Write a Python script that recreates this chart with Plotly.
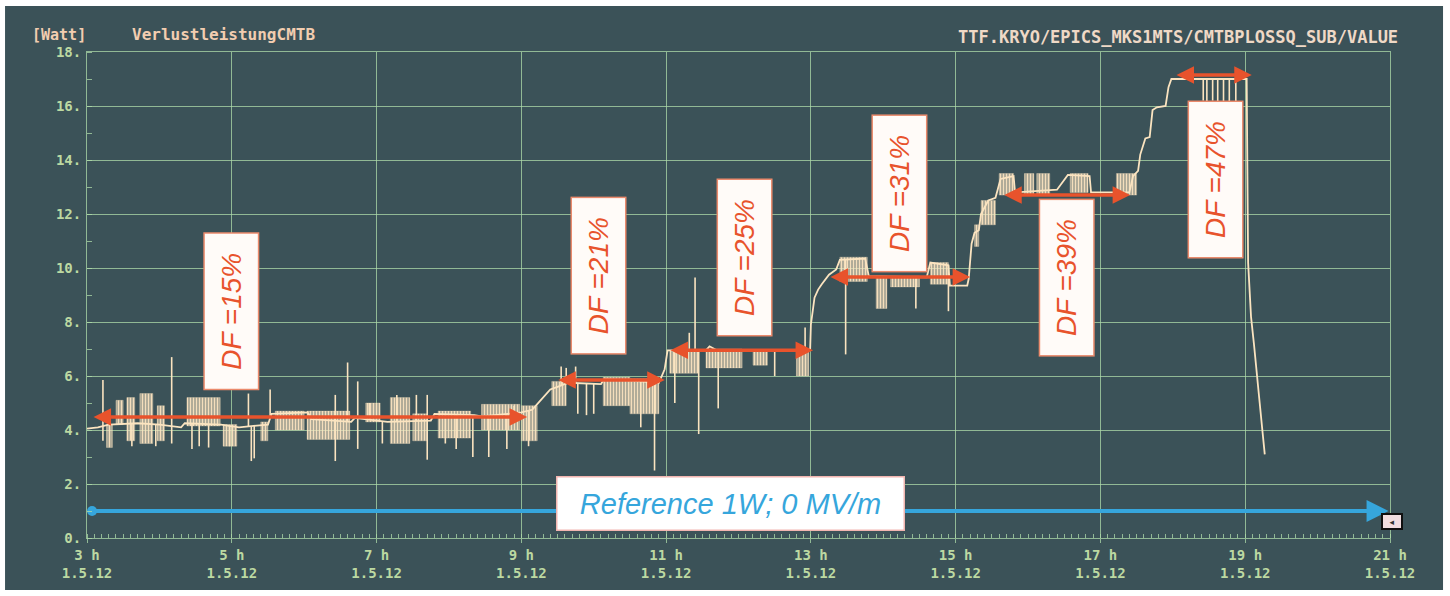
import numpy as np
import plotly.graph_objects as go

# ---- cavity loss power trace (hours on 1.5.12, watts) ----
hours_base = [3.00, 3.15, 3.30, 3.70, 4.00, 4.30, 4.35, 4.85, 5.10, 5.50, 5.55, 6.05,
              6.10, 6.65, 6.70, 7.05, 7.15, 7.75, 7.80, 8.35, 8.45, 9.00, 9.15, 9.25,
              9.40, 9.50, 9.65, 10.10, 10.15, 10.90, 10.98, 11.02, 11.55, 11.60, 11.70,
              12.95, 12.99, 13.00, 13.05, 13.10, 13.15, 13.25, 13.35, 13.40, 13.75, 13.80,
              14.60, 14.65, 14.90, 14.92, 15.16, 15.18, 15.22, 15.26, 15.32, 15.35, 15.45,
              15.55, 15.62, 15.80, 15.82, 16.40, 16.55, 16.85, 16.87, 17.40, 17.45, 17.52,
              17.55, 17.62, 17.68, 17.72, 17.78, 17.90, 17.94, 17.98, 19.02, 19.04, 19.08,
              19.12, 19.16, 19.20, 19.24, 19.27]
watt_base = [4.05, 4.10, 4.20, 4.25, 4.20, 4.10, 4.25, 4.20, 4.10, 4.20, 4.60, 4.65,
             4.40, 4.30, 4.45, 4.35, 4.30, 4.35, 4.60, 4.55, 4.50, 4.65, 4.75, 5.05,
             5.50, 5.60, 5.75, 5.70, 5.90, 5.75, 6.25, 6.95, 6.95, 7.10, 6.95,
             6.95, 7.00, 7.90, 8.90, 9.20, 9.40, 9.75, 9.95, 10.30, 10.35, 9.70,
             9.65, 10.20, 10.10, 9.35, 9.35, 9.60, 10.90, 11.30, 11.40, 12.00, 12.50,
             12.60, 13.30, 13.40, 12.80, 12.90, 13.45, 13.40, 12.80, 12.80, 13.40, 13.60,
             14.20, 14.80, 14.85, 15.85, 15.95, 16.00, 16.70, 17.00, 17.00, 10.20, 8.20,
             7.20, 6.20, 5.00, 3.90, 3.10]

# dense fluctuation blocks: start, end, lower and upper value
burst_start = [3.27, 3.40, 3.55, 3.73, 3.97, 4.38, 4.88, 5.40, 5.60, 6.04, 6.85, 7.19,
               7.50, 7.85, 8.45, 9.00, 9.42, 10.13, 10.50, 11.05, 11.55, 12.20, 12.80,
               13.40, 13.90, 14.10, 14.65, 15.26, 15.35, 15.60, 15.95, 16.12, 16.58, 17.22]
burst_end = [3.35, 3.50, 3.66, 3.91, 4.07, 4.84, 5.07, 5.50, 6.00, 6.63, 7.05, 7.46,
             7.70, 8.30, 8.98, 9.22, 9.62, 10.50, 10.90, 11.45, 12.05, 12.40, 12.97,
             13.78, 14.05, 14.50, 14.90, 15.32, 15.55, 15.80, 16.08, 16.30, 16.83, 17.50]
burst_low = [3.35, 4.20, 3.60, 3.50, 3.60, 4.15, 3.40, 3.60, 4.00, 3.65, 4.30, 3.50,
             3.60, 3.70, 4.00, 3.60, 4.90, 4.90, 4.60, 6.10, 6.30, 6.40, 6.00,
             9.50, 8.50, 9.30, 9.40, 10.80, 11.60, 12.70, 12.70, 12.70, 12.80, 12.70]
burst_high = [4.20, 5.10, 5.20, 5.35, 4.90, 5.20, 4.20, 4.30, 4.70, 4.70, 5.00, 5.20,
              4.60, 4.70, 4.95, 4.90, 5.80, 5.95, 5.90, 6.95, 7.00, 6.95, 6.95,
              10.40, 9.70, 9.70, 10.20, 11.60, 12.50, 13.50, 13.50, 13.50, 13.50, 13.50]

# isolated excursions: time and tip value
spike_hours = [3.22, 3.22, 3.62, 3.95, 4.17, 4.17, 4.45, 4.55, 4.68, 4.97, 5.23, 5.27,
               5.31, 5.53, 6.43, 6.43, 6.60, 6.74, 6.74, 6.90, 7.08, 7.28, 7.55, 7.70,
               7.70, 7.95, 8.10, 8.33, 8.55, 8.80, 8.90, 9.10, 9.55, 9.62, 9.75, 9.78,
               9.90, 10.00, 10.65, 10.84, 11.12, 11.32, 11.40, 11.45, 11.72, 12.50, 12.92,
               13.48, 14.45, 14.90, 18.42, 18.47, 18.55, 18.62, 18.70, 18.78, 18.87]
spike_watt = [5.85, 3.60, 3.40, 3.40, 6.70, 3.50, 3.30, 3.40, 3.35, 3.40, 5.35, 2.85,
              2.95, 5.50, 5.30, 2.85, 6.50, 5.80, 3.30, 5.00, 3.50, 5.30, 5.30, 5.30,
              2.90, 3.50, 3.30, 3.00, 3.00, 3.30, 4.90, 3.40, 6.35, 6.30, 6.35, 4.60,
              4.55, 4.60, 4.10, 2.50, 5.00, 7.60, 9.65, 3.85, 4.80, 6.00, 7.80,
              6.80, 8.50, 8.40, 16.20, 16.10, 16.20, 16.00, 16.00, 16.10, 16.00]

# duty factor marks
df_labels = ["DF =15%", "DF =21%", "DF =25%", "DF =31%", "DF =39%", "DF =47%"]
df_from = [3.07, 9.49, 11.04, 13.25, 15.65, 18.03]
df_to = [9.08, 10.98, 13.03, 15.20, 17.41, 19.09]
df_level = [4.48, 5.85, 6.95, 9.67, 12.70, 17.15]
df_box_hour = [5.00, 10.06, 12.09, 14.23, 16.54, 18.59]
df_box_watt = [8.39, 9.72, 10.39, 12.76, 9.65, 13.26]

ref_hours = [3.07, 20.98]
ref_watt = [1.0, 1.0]
ref_label = "Reference 1W; 0 MV/m"

hour_ticks = [3, 5, 7, 9, 11, 13, 15, 17, 19, 21]
hour_labels = [f"{h} h<br>1.5.12" for h in hour_ticks]
watt_ticks = list(range(0, 19, 2))
watt_labels = [f"{w}." for w in watt_ticks]

BG = "#3b5258"
GRID = "rgba(175,220,170,0.75)"
TRACE = "#fbe4c0"
TICKTXT = "#bcd9a2"
HEAD = "#f2cdb0"
RED = "#e8532c"
BLUE = "#36a6dc"
MONO = "DejaVu Sans Mono"

fig = go.Figure()

# blocks of dense switching, drawn as striped fill
bx, by = [], []
for t0, t1, lo, hi in zip(burst_start, burst_end, burst_low, burst_high):
    bx += [t0, t1, t1, t0, t0, None]
    by += [lo, lo, hi, hi, lo, None]
fig.add_trace(go.Scatter(x=bx, y=by, mode="lines", fill="toself",
                         fillcolor="rgba(251,228,192,0.4)",
                         fillpattern=dict(shape="|", fgcolor=TRACE, fgopacity=0.95,
                                          bgcolor="rgba(251,228,192,0.3)",
                                          size=3, solidity=0.65),
                         line=dict(color="rgba(251,228,192,0.5)", width=0.6),
                         hoverinfo="skip"))

# single excursions from the running level
sx, sy = [], []
for t, tip in zip(spike_hours, spike_watt):
    base = float(np.interp(t, hours_base, watt_base))
    sx += [t, t, None]
    sy += [base, tip, None]
fig.add_trace(go.Scatter(x=sx, y=sy, mode="lines",
                         line=dict(color=TRACE, width=1.6), hoverinfo="skip"))

# running level
fig.add_trace(go.Scatter(x=hours_base, y=watt_base, mode="lines",
                         line=dict(color=TRACE, width=1.8), hoverinfo="skip"))

# reference line start dot
fig.add_trace(go.Scatter(x=ref_hours[:1], y=ref_watt[:1], mode="markers",
                         marker=dict(color=BLUE, size=10), hoverinfo="skip"))

annotations = []
# reference arrow
annotations.append(dict(x=ref_hours[1], y=ref_watt[1], ax=ref_hours[0], ay=ref_watt[0],
                        xref="x", yref="y", axref="x", ayref="y", text="",
                        showarrow=True, arrowhead=2, arrowsize=1.1, arrowwidth=4,
                        arrowcolor=BLUE, arrowside="end"))
annotations.append(dict(x=11.89, y=1.26, xref="x", yref="y", text=ref_label,
                        showarrow=False, bgcolor="#ffffff", bordercolor="#f1b5b0",
                        borderwidth=1.5, width=344, height=50,
                        font=dict(family="Liberation Sans", size=29, color=BLUE,
                                  style="italic")))

# duty factor arrows and labels
for lab, t0, t1, lvl, bxh, bwt in zip(df_labels, df_from, df_to, df_level,
                                      df_box_hour, df_box_watt):
    annotations.append(dict(x=t1, y=lvl, ax=t0, ay=lvl, xref="x", yref="y",
                            axref="x", ayref="y", text="", showarrow=True,
                            arrowhead=2, arrowsize=1.0, arrowwidth=3.5,
                            arrowcolor=RED, arrowside="end+start"))
    annotations.append(dict(x=bxh, y=bwt, xref="x", yref="y", text=lab,
                            showarrow=False, textangle=-90, bgcolor="#fffbf8",
                            bordercolor="#eb8a6c", borderwidth=1.5,
                            width=153, height=51,
                            font=dict(family="Liberation Sans", size=28, color=RED,
                                      style="italic")))

# header texts
annotations.append(dict(x=-0.0437, y=1.0360, xref="paper", yref="paper",
                        xanchor="left", yanchor="middle", showarrow=False,
                        text="[Watt]", font=dict(family=MONO, size=15, color=HEAD,
                                                 weight="bold")))
annotations.append(dict(x=0.033, y=1.0360, xref="paper", yref="paper",
                        xanchor="left", yanchor="middle", showarrow=False,
                        text="VerlustleistungCMTB",
                        font=dict(family=MONO, size=16, color=HEAD, weight="bold")))
annotations.append(dict(x=1.0077, y=1.0300, xref="paper", yref="paper",
                        xanchor="right", yanchor="middle", showarrow=False,
                        text="TTF.KRYO/EPICS_MKS1MTS/CMTBPLOSSQ_SUB/VALUE",
                        font=dict(family=MONO, size=17, color="#efd9c6",
                                  weight="bold")))
# scroll button
annotations.append(dict(x=1.0100, y=0.0165, xref="paper", yref="paper",
                        showarrow=False, text="◂", width=16, height=11,
                        bgcolor="#f1dde0", bordercolor="#101010", borderwidth=2,
                        font=dict(family="DejaVu Sans", size=9, color="#333333")))

fig.update_layout(
    width=1450, height=596,
    margin=dict(l=87, r=60, t=52, b=58),
    paper_bgcolor="#ffffff",
    plot_bgcolor=BG,
    showlegend=False,
    annotations=annotations,
    shapes=[dict(type="rect", xref="paper", yref="paper", x0=-0.0629, x1=1.0407,
                 y0=-0.107, y1=1.0947, fillcolor=BG, line=dict(width=0),
                 layer="below")],
)

fig.update_xaxes(range=[3, 21], tickvals=hour_ticks, ticktext=hour_labels,
                 showgrid=True, gridcolor=GRID, gridwidth=1, zeroline=False,
                 showline=True, linecolor=GRID, linewidth=1, mirror=True,
                 ticks="outside", ticklen=4, tickcolor=GRID,
                 tickfont=dict(family=MONO, size=14, color=TICKTXT, weight="bold"),
                 minor=dict(dtick=0.1, ticks="inside", ticklen=4, tickcolor=GRID,
                            showgrid=False))
fig.update_yaxes(range=[0, 18], tickvals=watt_ticks, ticktext=watt_labels,
                 showgrid=True, gridcolor=GRID, gridwidth=1, zeroline=False,
                 showline=True, linecolor=GRID, linewidth=1, mirror=True,
                 ticks="", ticklabelstandoff=2,
                 tickfont=dict(family=MONO, size=14, color=TICKTXT, weight="bold"),
                 minor=dict(dtick=1, ticks="inside", ticklen=5, tickcolor=GRID,
                            showgrid=False))

fig.write_html("out.html")
